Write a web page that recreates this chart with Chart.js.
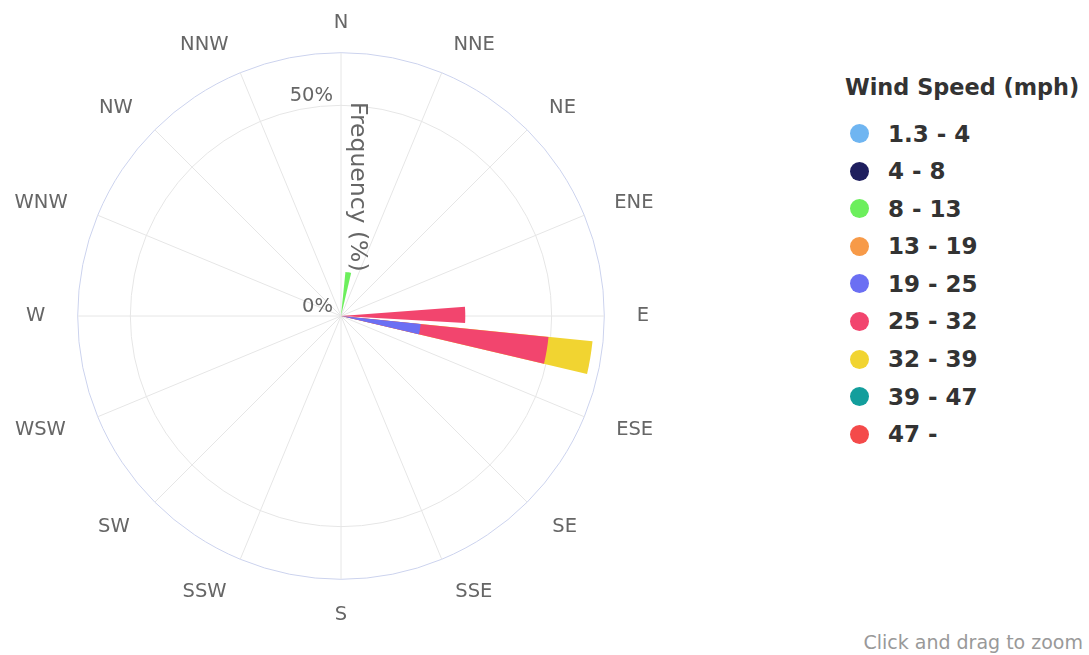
<!DOCTYPE html>
<html>
<head>
<meta charset="utf-8">
<title>Wind Rose</title>
<script src="https://cdn.jsdelivr.net/npm/chart.js@4.4.1/dist/chart.umd.min.js"></script>
<style>
  body { margin: 0; background: #fff; font-family: "DejaVu Sans", sans-serif; }
  #page { position: relative; width: 1089px; height: 655px; overflow: hidden; }
  #rose { position: absolute; left: -40px; top: 0; width: 762px; height: 655px; }
  #legend { position: absolute; left: 845px; top: 74px; color: #333; }
  #legend .title { font-weight: bold; font-size: 22.4px; line-height: 26px; white-space: nowrap; }
  #legend ul { list-style: none; margin: 15.5px 0 0 0; padding: 0; }
  #legend li { height: 37.6px; line-height: 37.6px; font-weight: bold; font-size: 23px; padding-left: 5px; cursor: pointer; white-space: nowrap; }
  #legend li span { display: inline-block; width: 19px; height: 19px; border-radius: 50%; vertical-align: middle; margin: -3px 19px 0 0; }
  #legend li.off { color: #ccc; }
  #hint { position: absolute; right: 6px; top: 631px; font-size: 19px; line-height: 23px; color: #999; }
</style>
</head>
<body>
<div id="page">
  <div id="rose"><canvas id="windRose"></canvas></div>
  <div id="legend">
    <div class="title">Wind Speed (mph)</div>
    <ul></ul>
  </div>
  <div id="hint">Click and drag to zoom</div>
</div>
<script>
// bearings of the bars (deg) and the compass labels round the rim
var bearings = [0, 10, 20, 30, 40, 50, 60, 70, 80, 90, 100, 110,
                120, 130, 140, 150, 160, 170, 180, 190, 200, 210, 220, 230,
                240, 250, 260, 270, 280, 290, 300, 310, 320, 330, 340, 350];
var compass = ['N', 'NNE', 'NE', 'ENE', 'E', 'ESE', 'SE', 'SSE',
               'S', 'SSW', 'SW', 'WSW', 'W', 'WNW', 'NW', 'NNW'];

var speedBins = ['1.3 - 4', '4 - 8', '8 - 13', '13 - 19', '19 - 25',
                 '25 - 32', '32 - 39', '39 - 47', '47 -'];

// frequency (%) per bearing, one list per speed bin
var freq1to4   = [0, 0,    0, 0, 0, 0, 0, 0, 0, 0,    0,    0,  0, 0, 0, 0, 0, 0, 0, 0, 0, 0, 0, 0,  0, 0, 0, 0, 0, 0, 0, 0, 0, 0, 0, 0];
var freq4to8   = [0, 0,    0, 0, 0, 0, 0, 0, 0, 0,    0,    0,  0, 0, 0, 0, 0, 0, 0, 0, 0, 0, 0, 0,  0, 0, 0, 0, 0, 0, 0, 0, 0, 0, 0, 0];
var freq8to13  = [0, 10.5, 0, 0, 0, 0, 0, 0, 0, 0,    0,    0,  0, 0, 0, 0, 0, 0, 0, 0, 0, 0, 0, 0,  0, 0, 0, 0, 0, 0, 0, 0, 0, 0, 0, 0];
var freq13to19 = [0, 0,    0, 0, 0, 0, 0, 0, 0, 0,    0,    0,  0, 0, 0, 0, 0, 0, 0, 0, 0, 0, 0, 0,  0, 0, 0, 0, 0, 0, 0, 0, 0, 0, 0, 0];
var freq19to25 = [0, 0,    0, 0, 0, 0, 0, 0, 0, 0,    19,   0,  0, 0, 0, 0, 0, 0, 0, 0, 0, 0, 0, 0,  0, 0, 0, 0, 0, 0, 0, 0, 0, 0, 0, 0];
var freq25to32 = [0, 0,    0, 0, 0, 0, 0, 0, 0, 29.5, 30.5, 0,  0, 0, 0, 0, 0, 0, 0, 0, 0, 0, 0, 0,  0, 0, 0, 0, 0, 0, 0, 0, 0, 0, 0, 0];
var freq32to39 = [0, 0,    0, 0, 0, 0, 0, 0, 0, 0,    10.5, 0,  0, 0, 0, 0, 0, 0, 0, 0, 0, 0, 0, 0,  0, 0, 0, 0, 0, 0, 0, 0, 0, 0, 0, 0];
var freq39to47 = [0, 0,    0, 0, 0, 0, 0, 0, 0, 0,    0,    0,  0, 0, 0, 0, 0, 0, 0, 0, 0, 0, 0, 0,  0, 0, 0, 0, 0, 0, 0, 0, 0, 0, 0, 0];
var freq47up   = [0, 0,    0, 0, 0, 0, 0, 0, 0, 0,    0,    0,  0, 0, 0, 0, 0, 0, 0, 0, 0, 0, 0, 0,  0, 0, 0, 0, 0, 0, 0, 0, 0, 0, 0, 0];

var freqTicks = [0, 50, 62.5];
var maxFreq = 62.5;

var binColors = ['#6fb5f1', '#1e1e5e', '#6cef5c', '#f79a48', '#6b6ff3',
                 '#f2456e', '#f1d431', '#139e9c', '#f44a4a'];

// rim label distance per compass point (upper ones a bit closer, lower ones further)
var labelPadding = [29.5, 30.5, 31, 32.5, 32.5, 34.5, 35.5, 35.5,
                    35.5, 35.5, 35.5, 34.5, 32.5, 32.5, 31, 30.5];

// polarArea draws one wedge per slot: bars 7.5 deg wide with 2.5 deg gaps,
// the N bar is split in two (start and end of the circle)
var barWidth = 7.5, gapWidth = 2.5;
var slotDir = [0], slotAngle = [3.25];
for (var k = 1; k < bearings.length; k++) {
    slotDir.push(null); slotAngle.push(gapWidth);
    slotDir.push(k); slotAngle.push(barWidth);
}
slotDir.push(null); slotAngle.push(gapWidth);
slotDir.push(0); slotAngle.push(barWidth - 3.25);

// stack the bins: each dataset reaches the running total, inner bins drawn on top
var seriesFreq = [freq1to4, freq4to8, freq8to13, freq13to19, freq19to25,
                  freq25to32, freq32to39, freq39to47, freq47up];
var running = bearings.map(function () { return 0; });
var datasets = seriesFreq.map(function (values, i) {
    running = running.map(function (v, k) { return v + values[k]; });
    var top = running.slice();
    return {
        label: speedBins[i],
        data: slotDir.map(function (d) { return d === null || values[d] === 0 ? 0 : top[d]; }),
        backgroundColor: binColors[i],
        borderWidth: 0,
        angle: slotAngle
    };
});

// y axis labels and title, Highcharts-style, next to the north spoke
var radialAxisText = {
    id: 'radialAxisText',
    afterDatasetsDraw: function (chart) {
        var r = chart.scales.r, ctx = chart.ctx;
        ctx.save();
        ctx.fillStyle = '#666';
        ctx.font = '19.5px "DejaVu Sans", sans-serif';
        ctx.textAlign = 'right';
        ctx.textBaseline = 'middle';
        freqTicks.forEach(function (v) {
            if (v === maxFreq) return;
            ctx.fillText(v + '%', r.xCenter - 8, r.yCenter - r.getDistanceFromCenterForValue(v) - 9.5);
        });
        ctx.translate(r.xCenter + 16, r.yCenter - r.getDistanceFromCenterForValue(maxFreq) / 2 + 2.5);
        ctx.rotate(Math.PI / 2);
        ctx.font = '23.5px "DejaVu Sans", sans-serif';
        ctx.textAlign = 'center';
        ctx.fillText('Frequency (%)', 0, 0);
        ctx.restore();
    }
};

// legend as html list, one entry per speed bin
var htmlLegend = {
    id: 'htmlLegend',
    afterUpdate: function (chart) {
        var ul = document.querySelector('#legend ul');
        ul.innerHTML = '';
        chart.data.datasets.forEach(function (ds, i) {
            var li = document.createElement('li');
            var dot = document.createElement('span');
            dot.style.background = ds.backgroundColor;
            li.appendChild(dot);
            li.appendChild(document.createTextNode(ds.label));
            if (!chart.isDatasetVisible(i)) li.className = 'off';
            li.onclick = function () {
                chart.setDatasetVisibility(i, !chart.isDatasetVisible(i));
                chart.update();
            };
            ul.appendChild(li);
        });
    }
};

Chart.defaults.font.family = '"DejaVu Sans", sans-serif';

var ctx = document.getElementById('windRose').getContext('2d');
var windChart = new Chart(ctx, {
    type: 'polarArea',
    data: { datasets: datasets },
    options: {
        responsive: true,
        maintainAspectRatio: false,
        animation: false,
        layout: { padding: { top: 21, bottom: 36, left: 0, right: 0 } },
        plugins: {
            legend: { display: false },
            tooltip: { enabled: true }
        },
        scales: {
            r: {
                labels: compass,
                min: 0,
                max: maxFreq,
                startAngle: 0,
                afterBuildTicks: function (scale) {
                    scale.ticks = freqTicks.map(function (v) { return { value: v }; });
                },
                ticks: { display: false },
                grid: {
                    circular: true,
                    lineWidth: 1,
                    color: function (c) {
                        return c.tick && c.tick.value === maxFreq ? '#ccd3ee' : '#e6e6e6';
                    }
                },
                angleLines: { display: true, color: '#e6e6e6', lineWidth: 1 },
                pointLabels: {
                    display: true,
                    color: '#666',
                    // near-zero line height: labels are centred on their anchor point
                    font: { size: 19.5, lineHeight: 0.01 },
                    padding: function (c) { return labelPadding[c.index]; }
                }
            }
        }
    },
    plugins: [radialAxisText, htmlLegend]
});
</script>
</body>
</html>
